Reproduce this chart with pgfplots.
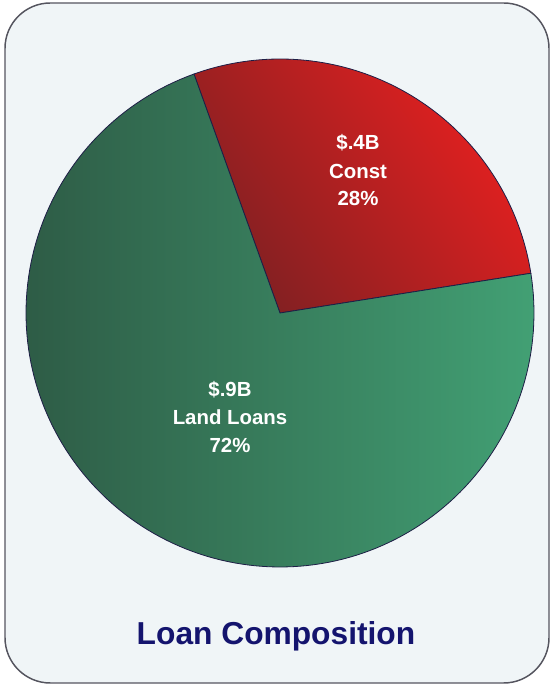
\documentclass[border=0pt]{standalone}
\usepackage{pgfplots}
\pgfplotsset{compat=1.18}
\usepackage{fontspec}
\setmainfont{Liberation Sans}
\definecolor{bgfill}{RGB}{240,245,247}
\definecolor{bgdraw}{RGB}{85,85,95}
\definecolor{constdark}{RGB}{128,32,34}
\definecolor{constlight}{RGB}{232,32,32}
\definecolor{landdark}{RGB}{46,92,70}
\definecolor{landlight}{RGB}{66,160,116}
\definecolor{pieedge}{RGB}{30,30,70}
\definecolor{titlecol}{RGB}{20,20,110}
% slice values (percent)
\def\constv{28}
\def\landv{72}
\begin{document}
\begin{tikzpicture}
\pgfmathsetmacro\sa{109.8}
\pgfmathsetmacro\sb{\sa-3.6*\constv}
\pgfmathsetmacro\sd{\sa+3.6*\landv}
\begin{axis}[x=0.75pt,y=0.75pt,xmin=0,xmax=550,ymin=0,ymax=686,
  hide axis, clip=false]
\path (axis cs:0,0) rectangle (axis cs:550,686);
\draw[rounded corners=34pt, fill=bgfill, draw=bgdraw, line width=1.1pt]
  (axis cs:5,3) rectangle (axis cs:549,683);
% Const slice
\addplot[draw=pieedge, line width=0.6pt, bottom color=constdark, top color=constlight,
  shading angle=-55,
  domain=\sb:\sa, samples=80, variable=\t]
  ({280+254*cos(t)},{373+254*sin(t)}) -- (axis cs:280,373) -- cycle;
% Land slice
\addplot[draw=pieedge, line width=0.6pt, left color=landdark, right color=landlight,
  domain=\sa:\sd, samples=160, variable=\t]
  ({280+254*cos(t)},{373+254*sin(t)}) -- (axis cs:280,373) -- cycle;
\node[anchor=base, text=white, font=\fontsize{15.3}{18}\selectfont\bfseries] at (axis cs:358,536) {\$.4B};
\node[anchor=base, text=white, font=\fontsize{15.3}{18}\selectfont\bfseries] at (axis cs:358,507) {Const};
\node[anchor=base, text=white, font=\fontsize{15.3}{18}\selectfont\bfseries] at (axis cs:358,480) {\constv\%};
\node[anchor=base, text=white, font=\fontsize{15.3}{18}\selectfont\bfseries] at (axis cs:230,289) {\$.9B};
\node[anchor=base, text=white, font=\fontsize{15.3}{18}\selectfont\bfseries] at (axis cs:230,261) {Land Loans};
\node[anchor=base, text=white, font=\fontsize{15.3}{18}\selectfont\bfseries] at (axis cs:230,233) {\landv\%};
\node[anchor=base, text=titlecol, font=\fontsize{23.8}{28}\selectfont\bfseries] at (axis cs:276,41) {Loan Composition};
\end{axis}
\end{tikzpicture}
\end{document}
